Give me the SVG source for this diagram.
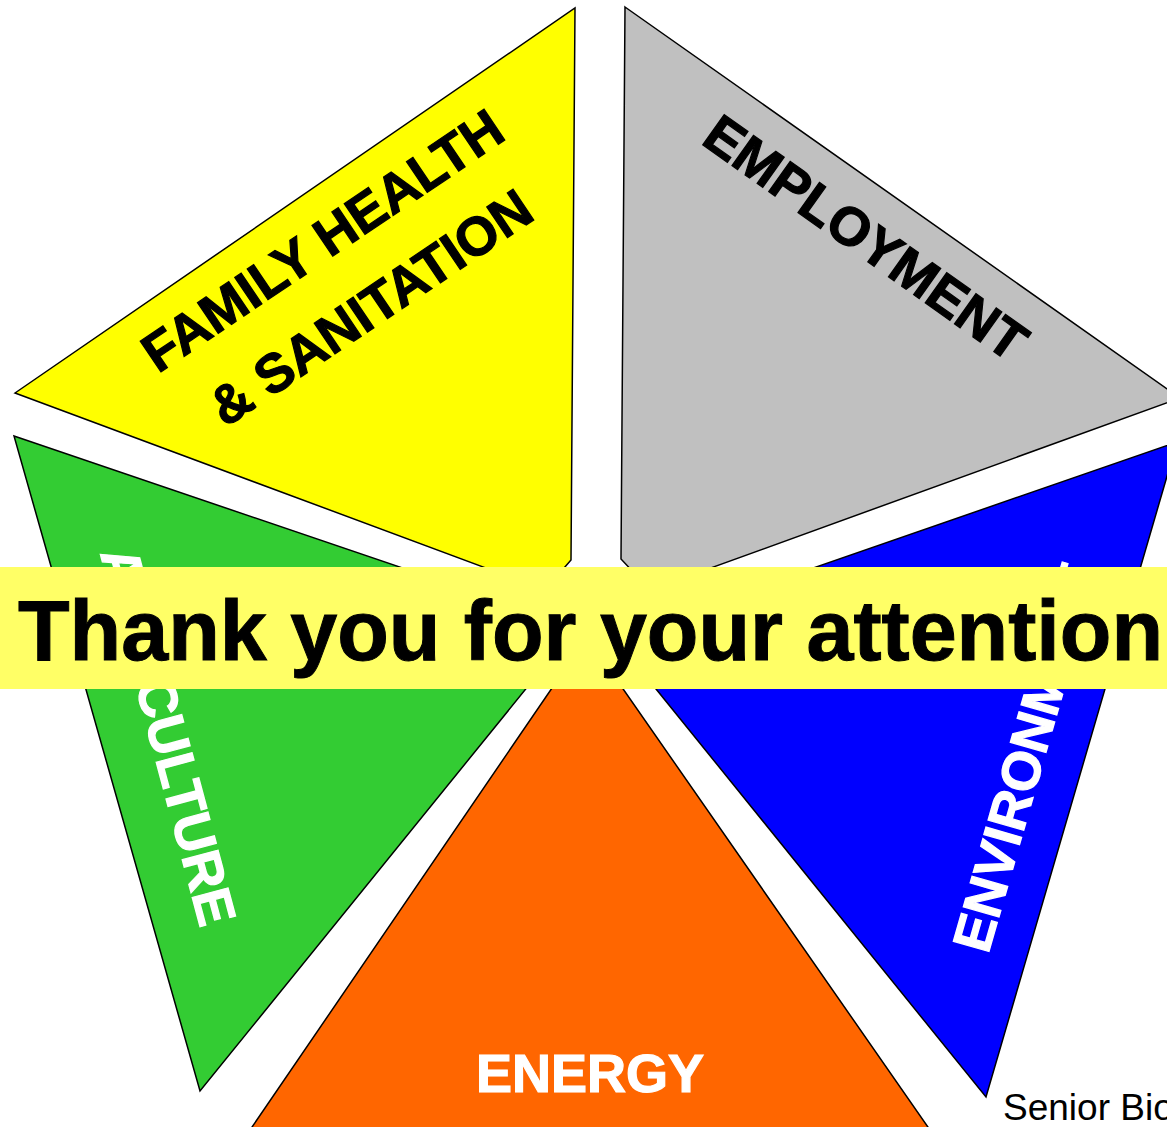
<svg xmlns="http://www.w3.org/2000/svg" width="1167" height="1127" viewBox="0 0 1167 1127">
<style>
.tri{stroke:#000;stroke-width:1.5;stroke-linejoin:miter}
.lbl{font-family:"Liberation Sans",Arial,sans-serif;font-weight:bold;font-size:54px;stroke-width:1.2;paint-order:stroke}
.dark{fill:#000;stroke:#000}
.light{fill:#fff;stroke:#fff}
</style>
<rect width="1167" height="1127" fill="#fff"/>
<g id="family-health">
<polygon class="tri" fill="#FFFF00" points="15,393 575,8 571,560 545,590"/>
<text class="lbl dark" text-anchor="middle" transform="translate(333,256) rotate(-34)">FAMILY HEALTH</text>
<text class="lbl dark" text-anchor="middle" transform="translate(381,323) rotate(-34)" font-size="56">&amp; SANITATION</text>
</g>
<g id="employment">
<polygon class="tri" fill="#C0C0C0" points="625,7 1180,398 650,590 621,559"/>
<text class="lbl dark" text-anchor="middle" transform="translate(855,253) rotate(35.4)">EMPLOYMENT</text>
</g>
<g id="agriculture">
<polygon class="tri" fill="#33CC33" points="14,436 576,627 200,1091"/>
<text class="lbl light" transform="translate(100,553) rotate(75)" font-size="55">AGRICULTURE</text>
</g>
<g id="environment">
<polygon class="tri" fill="#0000FF" points="1177,442 614,637 986,1097"/>
<text class="lbl light" transform="translate(988,955) rotate(-74)" font-size="53">ENVIRONMENT</text>
</g>
<g id="energy">
<polygon class="tri" fill="#FF6600" points="250,1130 578,650 596,650 930,1130"/>
<text class="lbl light" text-anchor="middle" x="590" y="1092" font-size="53">ENERGY</text>
</g>
<g id="banner">
<rect x="0" y="567" width="1167" height="122" fill="#FFFF66"/>
<text x="18" y="660" font-family="Liberation Sans,Arial,sans-serif" font-weight="bold" font-size="86" fill="#000" stroke="#000" stroke-width="1" textLength="1145" lengthAdjust="spacingAndGlyphs">Thank you for your attention</text>
</g>
<g id="connectors"></g>
<text x="1003" y="1120" font-family="Liberation Sans,Arial,sans-serif" font-size="37" fill="#000">Senior Bio</text>
</svg>
